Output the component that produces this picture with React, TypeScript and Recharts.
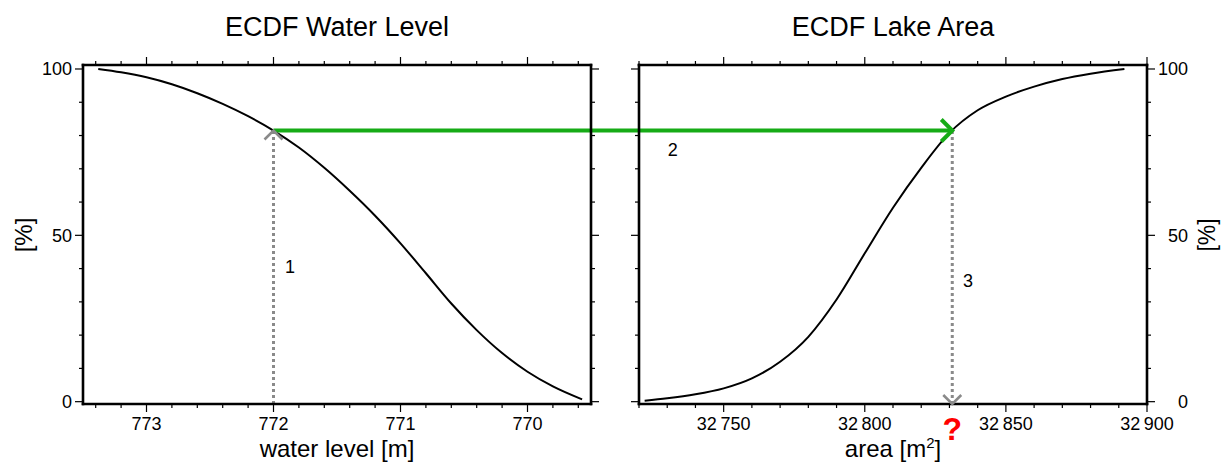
import { LineChart, Line, XAxis, YAxis, ReferenceLine, ReferenceDot } from "recharts";

// ECDF of the water level (x axis runs from high to low)
const waterLevels = [773.38, 773.2, 773.0, 772.8, 772.6, 772.4, 772.2, 772.0, 771.8, 771.6, 771.4, 771.2, 771.0, 770.8, 770.6, 770.4, 770.2, 770.0, 769.8, 769.57];
const waterEcdf = [100, 99.0, 97.5, 95.4, 92.7, 89.5, 85.8, 81.5, 76.4, 70.3, 63.4, 55.9, 47.6, 38.6, 29.5, 21.5, 14.6, 9.0, 4.6, 0.7];

// ECDF of the lake area
const lakeAreas = [32722, 32730, 32740, 32750, 32760, 32770, 32780, 32790, 32800, 32810, 32820, 32830, 32840, 32850, 32860, 32870, 32880, 32892];
const areaEcdf = [0.3, 1.0, 2.2, 4.0, 7.0, 12.0, 19.5, 30.7, 44.6, 58.3, 70.3, 80.8, 87.6, 91.7, 94.7, 97.0, 98.6, 100];

// lookup: level -> percent -> area
const crossLevel = 772;
const crossPct = 81.5;
const crossArea = 32831;

const stepLabels = ["1", "2", "3"];
const stepLevel = { x: 771.87, y: 38.6 };
const stepAcross = { x: 32732, y: 73.9 };
const stepArea = { x: 32836.6, y: 34.5 };

// ticks
const pctTicks = [0, 10, 20, 30, 40, 50, 60, 70, 80, 90, 100];
const pctMajor = [0, 50, 100];
const pctLabels = ["0", "50", "100"];
const levelTicks = [773.4, 773.2, 773.0, 772.8, 772.6, 772.4, 772.2, 772.0, 771.8, 771.6, 771.4, 771.2, 771.0, 770.8, 770.6, 770.4, 770.2, 770.0, 769.8, 769.6];
const levelMajor = [773, 772, 771, 770];
const levelLabels = ["773", "772", "771", "770"];
const areaTicks = [32720, 32730, 32740, 32750, 32760, 32770, 32780, 32790, 32800, 32810, 32820, 32830, 32840, 32850, 32860, 32870, 32880, 32890, 32900];
const areaMajor = [32750, 32800, 32850, 32900];
const areaLabels = ["32\u2009750", "32\u2009800", "32\u2009850", "32\u2009900"];

const levelDomain: [number, number] = [769.5, 773.5];
const areaDomain: [number, number] = [32720, 32900];
const pctDomain: [number, number] = [-0.7, 101.2];

// layout
const W = 1221;
const H = 464;
const TOP_AXIS = 65;
const BOTTOM_AXIS = 60;
const L_PLOT_LEFT = 83;
const L_PLOT_RIGHT = 591;
const R_CHART_X = 600;
const R_PLOT_LEFT = 639;
const R_PLOT_RIGHT = 1147;
const FONT = '"Liberation Sans", Arial, Helvetica, sans-serif';
const GREEN = "#16ab16";
const GREY = "#8a8a8a";

const leftRows = waterLevels.map((level, i) => ({ level, ecdf: waterEcdf[i] }));
const rightRows = lakeAreas.map((area, i) => ({ area, ecdf: areaEcdf[i] }));

// green arrow carries on through the gap between the two frames
const gapLevel =
  ((R_PLOT_LEFT - L_PLOT_RIGHT) * (levelDomain[1] - levelDomain[0])) / (L_PLOT_RIGHT - L_PLOT_LEFT);
const leftArrowEnd = levelDomain[0] - gapLevel;

const frame = { stroke: "#000", strokeWidth: 2.6, strokeLinecap: "square" as const };

const majorIndex = (v: number, majors: number[]) => majors.findIndex((m) => Math.abs(m - v) < 1e-6);

const xTick = (side: "top" | "bottom", majors: number[], labels?: string[]) => (p: any) => {
  const mi = majorIndex(p.payload.value, majors);
  const len = mi >= 0 ? 8 : 4;
  const d = side === "bottom" ? 1 : -1;
  return (
    <g>
      <line x1={p.x} x2={p.x} y1={p.y} y2={p.y + d * len} stroke="#000" strokeWidth={1.2} />
      {labels && mi >= 0 && (
        <text x={p.x} y={p.y + 26} textAnchor="middle" fontSize={18} fontFamily={FONT} fill="#000">
          {labels[mi]}
        </text>
      )}
    </g>
  );
};

const yTick = (side: "left" | "right", labels?: string[]) => (p: any) => {
  const mi = majorIndex(p.payload.value, pctMajor);
  const len = mi >= 0 ? 8 : 4;
  const d = side === "right" ? 1 : -1;
  return (
    <g>
      <line x1={p.x} x2={p.x + d * len} y1={p.y} y2={p.y} stroke="#000" strokeWidth={1.2} />
      {labels && mi >= 0 && (
        <text
          x={side === "left" ? p.x - 11 : p.x + 41}
          y={p.y + 6.5}
          textAnchor="end"
          fontSize={18}
          fontFamily={FONT}
          fill="#000"
        >
          {labels[mi]}
        </text>
      )}
    </g>
  );
};

const chevron = (dir: "up" | "down" | "right", color: string, size: number, width: number) => (p: any) => {
  const { cx, cy } = p;
  let pts = "";
  if (dir === "up") pts = `${cx - size},${cy + size} ${cx},${cy} ${cx + size},${cy + size}`;
  if (dir === "down") pts = `${cx - size},${cy - size} ${cx},${cy} ${cx + size},${cy - size}`;
  if (dir === "right") pts = `${cx - size},${cy - size} ${cx},${cy} ${cx - size},${cy + size}`;
  return <polyline points={pts} fill="none" stroke={color} strokeWidth={width} strokeLinejoin="miter" />;
};

const textMark = (label: string, size = 18, color = "#000", bold = false, dy = 0) => (p: any) => (
  <text
    x={p.cx}
    y={p.cy + dy}
    textAnchor="middle"
    fontSize={size}
    fontWeight={bold ? "bold" : "normal"}
    fontFamily={FONT}
    fill={color}
  >
    {label}
  </text>
);

const LeftPanel = () => (
  <LineChart width={R_PLOT_LEFT} height={H} data={leftRows} margin={{ top: 0, right: 0, bottom: 0, left: 0 }}>
    <XAxis
      xAxisId="b"
      dataKey="level"
      type="number"
      domain={levelDomain}
      reversed
      allowDataOverflow
      ticks={levelTicks}
      interval={0}
      orientation="bottom"
      height={BOTTOM_AXIS}
      axisLine={frame}
      tickLine={false}
      tickSize={0}
      tickMargin={0}
      tick={xTick("bottom", levelMajor, levelLabels)}
    />
    <XAxis
      xAxisId="t"
      dataKey="level"
      type="number"
      domain={levelDomain}
      reversed
      allowDataOverflow
      ticks={levelTicks}
      interval={0}
      orientation="top"
      height={TOP_AXIS}
      axisLine={frame}
      tickLine={false}
      tickSize={0}
      tickMargin={0}
      tick={xTick("top", levelMajor)}
    />
    <YAxis
      yAxisId="l"
      type="number"
      domain={pctDomain}
      allowDataOverflow
      ticks={pctTicks}
      interval={0}
      orientation="left"
      width={L_PLOT_LEFT}
      axisLine={frame}
      tickLine={false}
      tickSize={0}
      tickMargin={0}
      tick={yTick("left", pctLabels)}
    />
    <YAxis
      yAxisId="r"
      type="number"
      domain={pctDomain}
      allowDataOverflow
      ticks={pctTicks}
      interval={0}
      orientation="right"
      width={R_PLOT_LEFT - L_PLOT_RIGHT}
      axisLine={frame}
      tickLine={false}
      tickSize={0}
      tickMargin={0}
      tick={yTick("right")}
    />
    <Line
      xAxisId="b"
      yAxisId="l"
      dataKey="ecdf"
      type="monotone"
      stroke="#000"
      strokeWidth={2}
      dot={false}
      isAnimationActive={false}
    />
    <ReferenceLine
      xAxisId="b"
      yAxisId="l"
      segment={[
        { x: crossLevel, y: pctDomain[0] },
        { x: crossLevel, y: crossPct },
      ]}
      stroke={GREY}
      strokeWidth={3}
      strokeDasharray="3 3"
      ifOverflow="visible"
    />
    <ReferenceLine
      xAxisId="b"
      yAxisId="l"
      segment={[
        { x: crossLevel, y: crossPct },
        { x: leftArrowEnd, y: crossPct },
      ]}
      stroke={GREEN}
      strokeWidth={4}
      ifOverflow="visible"
    />
    <ReferenceDot xAxisId="b" yAxisId="l" x={crossLevel} y={crossPct} r={0} shape={chevron("up", GREY, 9, 2.6)} />
    <ReferenceDot xAxisId="b" yAxisId="l" x={stepLevel.x} y={stepLevel.y} r={0} shape={textMark(stepLabels[0])} />
  </LineChart>
);

const RightPanel = () => (
  <LineChart width={W - R_CHART_X} height={H} data={rightRows} margin={{ top: 0, right: 0, bottom: 0, left: 0 }}>
    <XAxis
      xAxisId="b"
      dataKey="area"
      type="number"
      domain={areaDomain}
      allowDataOverflow
      ticks={areaTicks}
      interval={0}
      orientation="bottom"
      height={BOTTOM_AXIS}
      axisLine={frame}
      tickLine={false}
      tickSize={0}
      tickMargin={0}
      tick={xTick("bottom", areaMajor, areaLabels)}
    />
    <XAxis
      xAxisId="t"
      dataKey="area"
      type="number"
      domain={areaDomain}
      allowDataOverflow
      ticks={areaTicks}
      interval={0}
      orientation="top"
      height={TOP_AXIS}
      axisLine={frame}
      tickLine={false}
      tickSize={0}
      tickMargin={0}
      tick={xTick("top", areaMajor)}
    />
    <YAxis
      yAxisId="l"
      type="number"
      domain={pctDomain}
      allowDataOverflow
      ticks={pctTicks}
      interval={0}
      orientation="left"
      width={R_PLOT_LEFT - R_CHART_X}
      axisLine={frame}
      tickLine={false}
      tickSize={0}
      tickMargin={0}
      tick={yTick("left")}
    />
    <YAxis
      yAxisId="r"
      type="number"
      domain={pctDomain}
      allowDataOverflow
      ticks={pctTicks}
      interval={0}
      orientation="right"
      width={W - R_PLOT_RIGHT}
      axisLine={frame}
      tickLine={false}
      tickSize={0}
      tickMargin={0}
      tick={yTick("right", pctLabels)}
    />
    <Line
      xAxisId="b"
      yAxisId="l"
      dataKey="ecdf"
      type="monotone"
      stroke="#000"
      strokeWidth={2}
      dot={false}
      isAnimationActive={false}
    />
    <ReferenceLine
      xAxisId="b"
      yAxisId="l"
      segment={[
        { x: crossArea, y: pctDomain[0] },
        { x: crossArea, y: crossPct },
      ]}
      stroke={GREY}
      strokeWidth={3}
      strokeDasharray="3 3"
      ifOverflow="visible"
    />
    <ReferenceLine
      xAxisId="b"
      yAxisId="l"
      segment={[
        { x: areaDomain[0], y: crossPct },
        { x: crossArea, y: crossPct },
      ]}
      stroke={GREEN}
      strokeWidth={4}
      ifOverflow="visible"
    />
    <ReferenceDot xAxisId="b" yAxisId="l" x={crossArea} y={crossPct} r={0} shape={chevron("right", GREEN, 11, 4)} />
    <ReferenceDot xAxisId="b" yAxisId="l" x={crossArea} y={pctDomain[0]} r={0} shape={chevron("down", GREY, 9, 2.6)} />
    <ReferenceDot xAxisId="b" yAxisId="l" x={stepAcross.x} y={stepAcross.y} r={0} shape={textMark(stepLabels[1])} />
    <ReferenceDot xAxisId="b" yAxisId="l" x={stepArea.x} y={stepArea.y} r={0} shape={textMark(stepLabels[2])} />
    <ReferenceDot
      xAxisId="b"
      yAxisId="l"
      x={crossArea}
      y={pctDomain[0]}
      r={0}
      shape={textMark("?", 32, "#f00", true, 36)}
    />
  </LineChart>
);

export default function App() {
  const leftMid = (L_PLOT_LEFT + L_PLOT_RIGHT) / 2;
  const rightMid = (R_PLOT_LEFT + R_PLOT_RIGHT) / 2;
  return (
    <div style={{ position: "fixed", left: 0, top: 0, width: W, height: H, background: "#fff" }}>
      <div style={{ position: "absolute", left: 0, top: 0 }}>
        <LeftPanel />
      </div>
      <div style={{ position: "absolute", left: R_CHART_X, top: 0 }}>
        <RightPanel />
      </div>
      <svg
        width={W}
        height={H}
        style={{ position: "absolute", left: 0, top: 0, pointerEvents: "none" }}
        fontFamily={FONT}
        fill="#000"
      >
        <text x={leftMid} y={36} textAnchor="middle" fontSize={27}>
          ECDF Water Level
        </text>
        <text x={rightMid} y={36} textAnchor="middle" fontSize={27}>
          ECDF Lake Area
        </text>
        <text x={leftMid} y={457} textAnchor="middle" fontSize={24}>
          water level [m]
        </text>
        <text x={rightMid} y={457} textAnchor="middle" fontSize={24}>
          area [m
          <tspan dy={-9} fontSize={15}>
            2
          </tspan>
          <tspan dy={9}>]</tspan>
        </text>
        <text transform="translate(23,235) rotate(-90)" textAnchor="middle" dominantBaseline="central" fontSize={24}>
          [%]
        </text>
        <text transform="translate(1207,235) rotate(-90)" textAnchor="middle" dominantBaseline="central" fontSize={23}>
          [%]
        </text>
      </svg>
    </div>
  );
}
